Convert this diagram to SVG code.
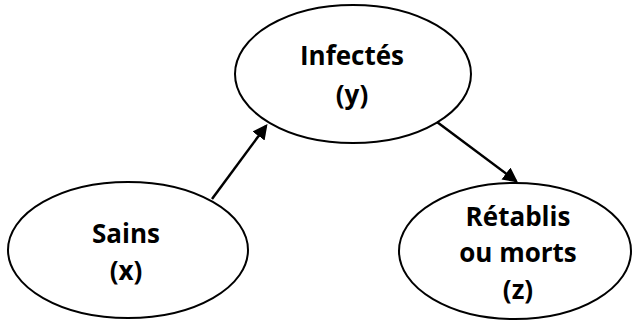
<svg xmlns="http://www.w3.org/2000/svg" width="636" height="324" viewBox="0 0 636 324">
<style>
.node ellipse{fill:#fff;stroke:#000;stroke-width:2}
.node text{font-family:"Open Sans","Liberation Sans",sans-serif;font-weight:bold;font-size:26px;fill:#000;text-anchor:middle}
.edge{stroke:#000;stroke-width:2.5;fill:none;marker-end:url(#ah)}
</style>
<defs>
<marker id="ah" markerWidth="6" markerHeight="6" refX="5" refY="3" orient="auto" markerUnits="strokeWidth" viewBox="0 0 6 6">
<path d="M0,0 L6,3 L0,6 Z" fill="#000"/>
</marker>
</defs>
<g id="infectes" class="node">
<ellipse cx="353" cy="74" rx="118" ry="69"/>
<text x="352" y="65">Infectés</text>
<text x="352" y="104">(y)</text>
</g>
<g id="sains" class="node">
<ellipse cx="128" cy="250" rx="120" ry="68"/>
<text x="126" y="243">Sains</text>
<text x="126" y="280">(x)</text>
</g>
<g id="retablis" class="node">
<ellipse cx="515" cy="251" rx="116" ry="68"/>
<text x="518" y="226">Rétablis</text>
<text x="518" y="262">ou morts</text>
<text x="518" y="299">(z)</text>
</g>
<g id="connectors">
<line class="edge" x1="212" y1="199" x2="266" y2="126"/>
<line class="edge" x1="437" y1="122" x2="516" y2="181"/>
</g>
</svg>
